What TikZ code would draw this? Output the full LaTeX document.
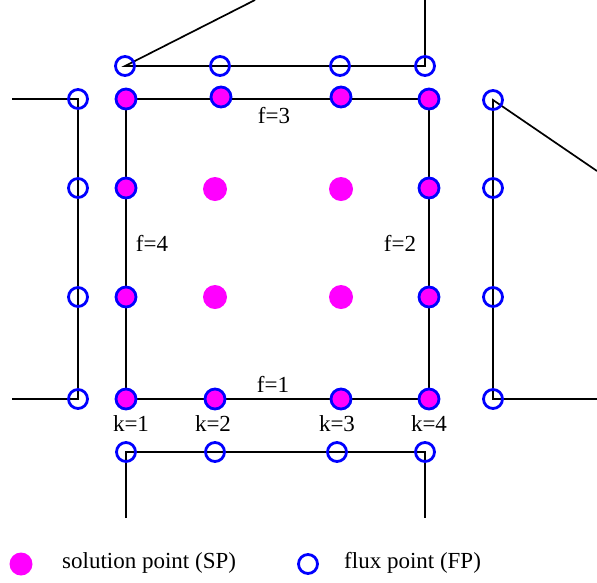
\documentclass[tikz,border=0pt]{standalone}
\usepackage{fontspec}
\setmainfont{Liberation Serif}
\definecolor{mag}{RGB}{255,0,255}
\definecolor{fpblue}{RGB}{0,0,255}
\begin{document}
\begin{tikzpicture}[x=1pt,y=-1pt,
  fp/.style={circle,draw=fpblue,line width=2.8pt,minimum size=19pt,inner sep=0pt},
  spe/.style={circle,draw=fpblue,fill=mag,line width=2.8pt,minimum size=20pt,inner sep=0pt},
  spi/.style={circle,fill=mag,minimum size=24pt,inner sep=0pt},
  edge/.style={line width=1.7pt,black},
  lbl/.style={font=\fontsize{23}{25}\selectfont,inner sep=0pt}]
\useasboundingbox (0,0) rectangle (597,582);
% free ends
\coordinate (tv) at (425,0);
\coordinate (td) at (255,0);
\coordinate (l1) at (12,99);
\coordinate (l2) at (12,399);
\coordinate (rh) at (597,399);
\coordinate (rd) at (597,171);
\coordinate (b1) at (126,518);
\coordinate (b2) at (425,518);
% coordinates for points
\coordinate (T1) at (125,66);\coordinate (T2) at (220,66);\coordinate (T3) at (340,66);\coordinate (T4) at (425,66);
\coordinate (L1) at (78,99);\coordinate (L2) at (78,188);\coordinate (L3) at (78,297);\coordinate (L4) at (78,399);
\coordinate (R1) at (493,100);\coordinate (R2) at (493,188);\coordinate (R3) at (493,297);\coordinate (R4) at (493,399);
\coordinate (B1) at (126,452);\coordinate (B2) at (215,452);\coordinate (B3) at (337,452);\coordinate (B4) at (425,452);
\coordinate (S11) at (126,99);\coordinate (S12) at (221,97);\coordinate (S13) at (341,97);\coordinate (S14) at (429,99);
\coordinate (S21) at (126,188);\coordinate (S24) at (429,188);
\coordinate (S31) at (126,297);\coordinate (S34) at (429,297);
\coordinate (S41) at (126,399);\coordinate (S42) at (215,399);\coordinate (S43) at (341,399);\coordinate (S44) at (429,399);
% lines
\draw[edge] (S11) -- (S14) -- (S44) -- (S41) -- cycle;
\draw[edge] (td) -- (T1) -- (T4) -- (tv);
\draw[edge] (l1) -- (L1) -- (L4) -- (l2);
\draw[edge] (rd) -- (R1) -- (R4) -- (rh);
\draw[edge] (b1) -- (B1) -- (B4) -- (b2);
% flux points
\foreach \p in {T1,T2,T3,T4,L1,L2,L3,L4,R1,R2,R3,R4,B1,B2,B3,B4}
  \node[fp] (n\p) at (\p) {};
% edge solution points
\foreach \p in {S11,S12,S13,S14,S21,S24,S31,S34,S41,S42,S43,S44}
  \node[spe] (n\p) at (\p) {};
% interior solution points
\node[spi] (i1) at (215,189) {};
\node[spi] (i2) at (341,189) {};
\node[spi] (i3) at (215,297) {};
\node[spi] (i4) at (341,297) {};
% labels
\node[lbl] (f3) at (274,116) {f=3};
\node[lbl] (f4) at (152,243) {f=4};
\node[lbl] (f2) at (400,243) {f=2};
\node[lbl] (f1) at (273,384) {f=1};
\node[lbl] (k1) at (131,424) {k=1};
\node[lbl] (k2) at (213,424) {k=2};
\node[lbl] (k3) at (337,424) {k=3};
\node[lbl] (k4) at (429,424) {k=4};
% legend
\node[circle,fill=mag,minimum width=22pt,minimum height=23pt,inner sep=0pt] (legsp) at (21,564) {};
\node[lbl,anchor=west] (legspt) at (62,563) {solution point (SP)};
\node[fp] (legfp) at (308,564) {};
\node[lbl,anchor=west] (legfpt) at (344,563) {flux point (FP)};
\end{tikzpicture}
\end{document}
